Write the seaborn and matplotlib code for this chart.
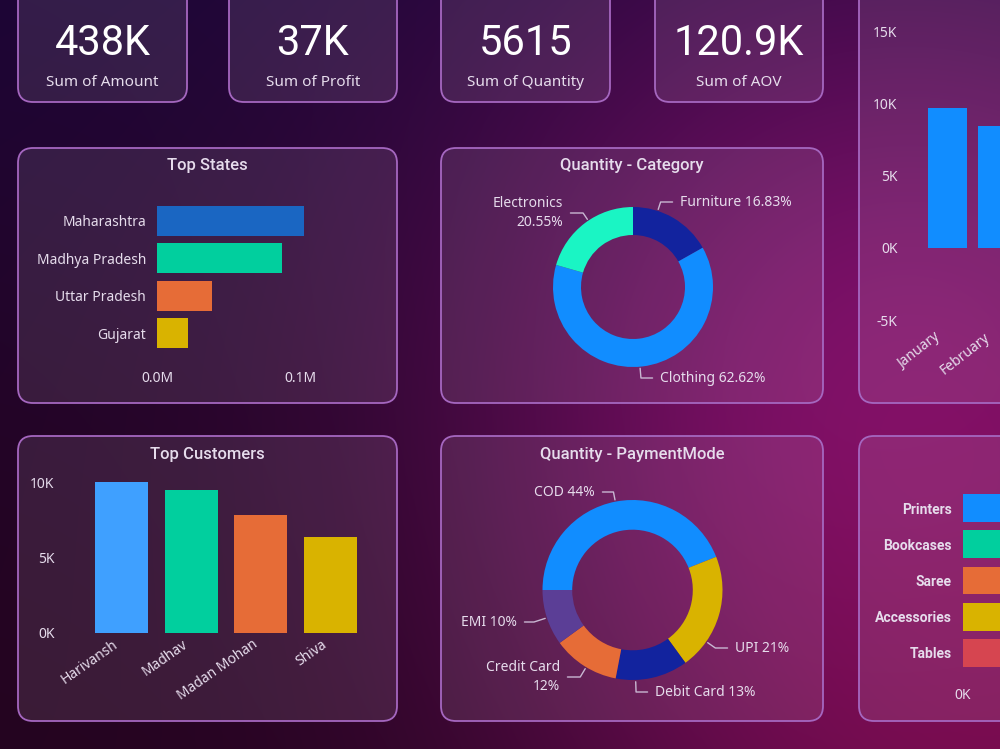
import numpy as np
import seaborn as sns
import matplotlib.pyplot as plt
import matplotlib.transforms as mtransforms
from matplotlib.patches import FancyBboxPatch

# ---- data ----
kpi_values = ["438K", "37K", "5615", "120.9K"]
kpi_labels = ["Sum of Amount", "Sum of Profit", "Sum of Quantity", "Sum of AOV"]

states = ["Maharashtra", "Madhya Pradesh", "Uttar Pradesh", "Gujarat"]
state_amount = [102500, 87400, 38500, 21700]

customers = ["Harivansh", "Madhav", "Madan Mohan", "Shiva"]
customer_amount = [9990, 9450, 7830, 6380]

months = ["January", "February"]
month_profit = [9680, 8460]

categories = ["Furniture", "Clothing", "Electronics"]
category_pct = [16.83, 62.62, 20.55]
category_text = ["Furniture 16.83%", "Clothing 62.62%", "Electronics\n20.55%"]

pay_modes = ["COD", "UPI", "Debit Card", "Credit Card", "EMI"]
pay_pct = [44, 21, 13, 12, 10]
pay_text = ["COD 44%", "UPI 21%", "Debit Card 13%", "Credit Card\n12%", "EMI 10%"]

sub_cats = ["Printers", "Bookcases", "Saree", "Accessories", "Tables"]
sub_cat_value = [7600, 7100, 6700, 6300, 5900]

# ---- style ----
sns.set_style("white")
plt.rcParams["font.family"] = ["Noto Sans", "DejaVu Sans"]
TXT = "#e6dcec"
LINE = "#c9b8d3"
BLUE = "#118DFF"
TEAL = "#01CF9E"
ORANGE = "#E66C37"
YELLOW = "#D9B300"

W, H = 1000, 749


def box(x0, y0, x1, y1):
    return [x0 / W, 1 - y1 / H, (x1 - x0) / W, (y1 - y0) / H]


fig = plt.figure(figsize=(10, 7.49), dpi=100)

# background gradient
bg = fig.add_axes([0, 0, 1, 1])
yy, xx = np.mgrid[0:H, 0:W].astype(float)
t = yy / H
base = np.stack([28 + 12 * t, 6 - 2 * t, 55 - 20 * t], axis=-1) / 255
m = np.exp(-((xx - 900) ** 2 + (yy - 430) ** 2) / (2 * 330 ** 2))[..., None]
img = base * (1 - m) + np.array([130, 18, 112]) / 255 * m
m2 = np.exp(-((xx - 1000) ** 2 + (yy - H) ** 2) / (2 * 260 ** 2))[..., None]
img = img * (1 - 0.6 * m2) + np.array([140, 12, 80]) / 255 * 0.6 * m2
d = np.exp(-(xx ** 2 + (yy - H) ** 2) / (2 * 380 ** 2))[..., None]
img = img * (1 - 0.5 * d) + np.array([32, 4, 28]) / 255 * 0.5 * d
bg.imshow(np.clip(img, 0, 1), extent=(0, W, H, 0), aspect="auto", zorder=0)
bg.set_xlim(0, W)
bg.set_ylim(H, 0)
bg.axis("off")


def panel(x0, y0, x1, y1):
    bg.add_patch(FancyBboxPatch((x0, y0), x1 - x0, y1 - y0,
                                boxstyle="round,pad=0,rounding_size=15",
                                facecolor=(1, 0.92, 1, 0.1), edgecolor="#a567c0",
                                lw=1.3, zorder=2))


# KPI cards
for i, (x0, x1) in enumerate([(18, 187), (229, 397), (441, 610), (655, 823)]):
    panel(x0, -20, x1, 102)
    cx = (x0 + x1) / 2
    bg.text(cx, 55, kpi_values[i], fontsize=30, color="white", ha="center",
            va="baseline", family=["Roboto", "DejaVu Sans"], zorder=3)
    bg.text(cx, 86, kpi_labels[i], fontsize=11, color=TXT, ha="center",
            va="baseline", zorder=3)

panel(18, 148, 397, 403)
panel(441, 148, 823, 403)
panel(859, -20, 1030, 403)
panel(18, 436, 397, 721)
panel(441, 436, 823, 721)
panel(859, 436, 1030, 721)

for x, y, s in [(207.5, 170, "Top States"), (632, 170, "Quantity - Category"),
                (207.5, 459, "Top Customers"), (632, 459, "Quantity - PaymentMode")]:
    bg.text(x, y, s, fontsize=12, color=TXT, ha="center", va="baseline",
            family=["Roboto", "DejaVu Sans"], fontweight="medium", zorder=3)


def chart_ax(x0, y0, x1, y1):
    ax = fig.add_axes(box(x0, y0, x1, y1))
    ax.patch.set_alpha(0)
    for s in ax.spines.values():
        s.set_visible(False)
    ax.tick_params(length=0, colors=TXT, labelsize=10)
    return ax


def shift_xlabels(ax, dx_px):
    off = mtransforms.ScaledTranslation(dx_px / 100, 0, fig.dpi_scale_trans)
    for lab in ax.get_xticklabels():
        lab.set_transform(lab.get_transform() + off)


# Top States
ax = chart_ax(157, 202.3, 360, 351.7)
sns.barplot(x=state_amount, y=states, hue=states, orient="h", width=0.8, saturation=1,
            palette=dict(zip(states, ["#1A66C2", TEAL, ORANGE, YELLOW])), legend=False,
            linewidth=0, ax=ax)
ax.set_xlim(0, 100000 * 203 / 143)
ax.set_ylim(3.5, -0.5)
ax.set_xticks([0, 100000], ["0.0M", "0.1M"])
ax.set_xlabel("")
ax.set_ylabel("")
ax.tick_params(axis="x", pad=14)
ax.tick_params(axis="y", pad=8)

# Top Customers
ax = chart_ax(86.6, 633 - 151 * 1.1, 365.4, 633)
sns.barplot(x=customers, y=customer_amount, hue=customers, width=0.76, saturation=1,
            palette=dict(zip(customers, ["#3FA0FF", TEAL, ORANGE, YELLOW])), legend=False,
            linewidth=0, ax=ax)
ax.set_ylim(0, 11000)
ax.set_xlim(-0.5, 3.5)
ax.set_yticks([0, 5000, 10000], ["0K", "5K", "10K"])
ax.set_xticks(range(len(customers)), customers, rotation=35, ha="right",
              rotation_mode="anchor")
ax.set_xlabel("")
ax.set_ylabel("")
ax.tick_params(axis="y", pad=23)
ax.tick_params(axis="x", pad=3)
shift_xlabels(ax, -9)

# monthly profit (cut off on the right)
ax = chart_ax(922.5, 24, 1022.5, 330)
sns.barplot(x=months, y=month_profit, color=BLUE, width=0.78, saturation=1,
            linewidth=0, ax=ax)
ax.set_ylim((248 - 330) / 72.3 * 5000, (248 - 24) / 72.3 * 5000)
ax.set_xlim(-0.5, 1.5)
ax.set_yticks([-5000, 0, 5000, 10000, 15000], ["-5K", "0K", "5K", "10K", "15K"])
ax.set_xticks(range(len(months)), months, rotation=38, ha="right",
              rotation_mode="anchor")
ax.set_xlabel("")
ax.set_ylabel("")
ax.tick_params(axis="y", pad=18)
ax.tick_params(axis="x", pad=0)
shift_xlabels(ax, -14)

# sub-category bars (cut off on the right)
ax = chart_ax(963, 489.9, 1160, 671.1)
sns.barplot(x=sub_cat_value, y=sub_cats, hue=sub_cats, orient="h", width=0.77, saturation=1,
            palette=dict(zip(sub_cats, [BLUE, TEAL, ORANGE, YELLOW, "#D64550"])), legend=False,
            linewidth=0, ax=ax)
ax.set_xlim(0, 8000)
ax.set_ylim(4.5, -0.5)
ax.set_xticks([0], ["0K"])
ax.set_yticks(range(len(sub_cats)), sub_cats, fontweight="bold",
              family=["Roboto", "DejaVu Sans"])
ax.set_xlabel("")
ax.set_ylabel("")
ax.tick_params(axis="x", pad=12)
ax.tick_params(axis="y", pad=8)


# donuts
def donut(vals, colors, start, width, texts, anchors, text_pos, cx, cy, r, area):
    x0, y0, x1, y1 = area
    ax = fig.add_axes(box(x0, y0, x1, y1))
    ax.patch.set_alpha(0)
    ax.pie(vals, colors=colors, startangle=start, counterclock=False,
           wedgeprops=dict(width=width, linewidth=0))
    ax.set_xlim((x0 - cx) / r, (x1 - cx) / r)
    ax.set_ylim((cy - y1) / r, (cy - y0) / r)
    ax.set_aspect("auto")
    ax.axis("off")
    for s, a, (tx, ty, ha) in zip(texts, anchors, text_pos):
        rad = np.deg2rad(a)
        ax.annotate(s, xy=(1.02 * np.cos(rad), 1.02 * np.sin(rad)), xytext=(tx, ty),
                    textcoords=bg.transData, ha=ha, va="center", fontsize=10,
                    color=TXT, linespacing=1.3,
                    arrowprops=dict(arrowstyle="-", color=LINE, lw=1, shrinkA=3, shrinkB=0,
                                    relpos=(1 if ha == "right" else 0, 0.5),
                                    connectionstyle=f"angle,angleA=0,angleB={a},rad=0"))


donut(category_pct, ["#12239E", BLUE, "#1AF5C4"], 90, 0.35, category_text,
      [72, -85, 124],
      [(680, 202, "left"), (660, 378, "left"), (563, 213, "right")],
      633, 287, 80, (441, 180, 823, 400))

donut(pay_pct, [BLUE, YELLOW, "#12239E", ORANGE, "#5B3E96"], 180, 0.33, pay_text,
      [101, -35, -88, -121, -162],
      [(595, 492, "right"), (735, 648, "left"), (655, 692, "left"),
       (560, 677, "right"), (517, 622, "right")],
      632.5, 590, 90, (441, 470, 823, 718))

fig.savefig("out.png", dpi=100)
